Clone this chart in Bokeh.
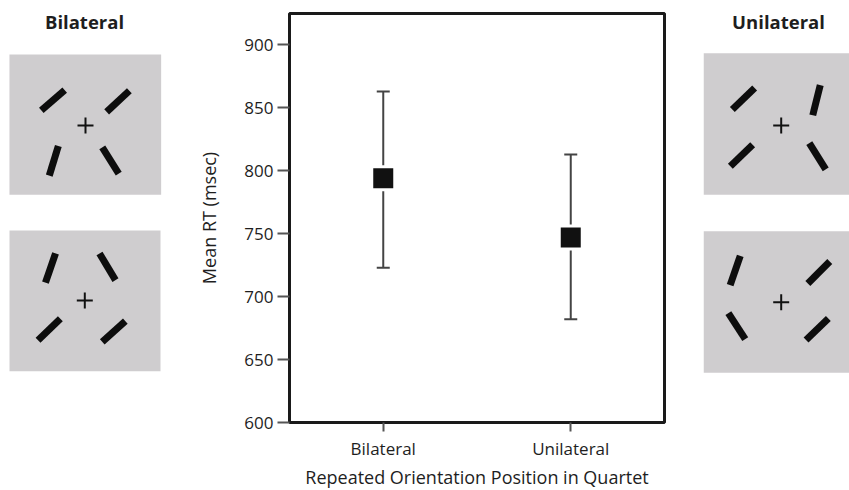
from bokeh.plotting import figure
from bokeh.models import (Range1d, FactorRange, FixedTicker, Whisker, TeeHead,
                          ColumnDataSource, Title)
from bokeh.layouts import row
from bokeh.embed import file_html
from bokeh.resources import INLINE
from bokeh.core.properties import value

# ---------------- data ----------------
categories = ["Bilateral", "Unilateral"]
mean_rt = [794, 747]
ci_upper = [863, 813]
ci_lower = [723, 682]
y_ticks = [600, 650, 700, 750, 800, 850, 900]
x_title = "Repeated Orientation Position in Quartet"
y_title = "Mean RT (msec)"

# stimulus illustrations: bar offsets from fixation (dx right, dy up) and orientation (deg)
bil_top_dx = [-32.5, 32.5, -31.7, 25.0]
bil_top_dy = [25.3, 24.2, -35.3, -35.0]
bil_top_ang = [41, 43, 73, 122]

bil_bot_dx = [-34.3, 22.7, -35.6, 29.0]
bil_bot_dy = [32.5, 33.7, -29.0, -31.0]
bil_bot_ang = [71, 121, 44, 42]

uni_top_dx = [-37.7, 35.3, -39.7, 36.3]
uni_top_dy = [26.7, 25.3, -30.0, -30.7]
uni_top_ang = [44, 76, 44, 122]

uni_bot_dx = [-46.0, 37.6, -44.4, 36.0]
uni_bot_dy = [31.7, 29.7, -24.0, -27.0]
uni_bot_ang = [71, 45, 123, 44]

FONT = "Open Sans"
TXT = "#1e1e1e"
PANEL = "#cfcdcf"
H = 490
FRAME_TOP = 13
FRAME_BOT = 422
Y0, Y1 = 600, 925


def side_fig(x0, x1, title, title_x, panels):
    p = figure(width=x1 - x0, height=H, x_range=Range1d(x0, x1),
               y_range=Range1d(-FRAME_BOT, -FRAME_TOP), x_axis_type=None, y_axis_type=None,
               toolbar_location=None, output_backend="svg",
               min_border_left=0, min_border_right=0, min_border_top=FRAME_TOP,
               min_border_bottom=H - FRAME_BOT)
    p.outline_line_color = None
    p.grid.visible = False
    p.text(x=[title_x], y=[-21], text=[title], text_font=value(FONT),
           text_font_style="bold", text_font_size="18.5px", text_color=TXT,
           text_align="center", text_baseline="middle")
    for (cx, cy, w, h, fx, fy, dx, dy, ang) in panels:
        p.rect(x=[cx], y=[-cy], width=w, height=h, fill_color=PANEL, line_color=None)
        xs = [fx + d for d in dx]
        ys = [-fy + d for d in dy]
        p.rect(x=xs, y=ys, width=31, height=7, angle=ang, angle_units="deg",
               fill_color="#0d0d0d", line_color=None)
        p.scatter(x=[fx], y=[-fy], marker="cross", size=16, line_width=2,
                  line_color="#111111")
    return p


left = side_fig(0, 190, "Bilateral", 84, [
    (84.8, 124.2, 151.7, 140.3, 85.0, 125.0, bil_top_dx, bil_top_dy, bil_top_ang),
    (84.5, 300.3, 151.0, 140.7, 84.3, 300.0, bil_bot_dx, bil_bot_dy, bil_bot_ang),
])
right = side_fig(695, 849, "Unilateral", 778, [
    (779.0, 123.5, 151.5, 141.6, 780.7, 125.0, uni_top_dx, uni_top_dy, uni_top_ang),
    (779.0, 301.5, 151.5, 141.6, 780.7, 301.7, uni_bot_dx, uni_bot_dy, uni_bot_ang),
])

# ---------------- main chart ----------------
src = ColumnDataSource(data=dict(cat=categories, mean=mean_rt, hi=ci_upper, lo=ci_lower))

p = figure(width=505, height=H,
           x_range=FactorRange(*categories, range_padding=0, factor_padding=0),
           y_range=Range1d(Y0, Y1),
           toolbar_location=None, output_backend="svg",
           min_border_left=99, min_border_right=31, min_border_top=FRAME_TOP,
           min_border_bottom=H - FRAME_BOT)
p.grid.visible = False
p.outline_line_color = "#1a1a1a"
p.outline_line_width = 3

wh = Whisker(source=src, base="cat", upper="hi", lower="lo",
             line_color="#444444", line_width=2, level="underlay",
             upper_head=TeeHead(size=13, line_color="#444444", line_width=2),
             lower_head=TeeHead(size=13, line_color="#444444", line_width=2))
p.add_layout(wh)
p.scatter(x="cat", y="mean", source=src, marker="square", size=23,
          fill_color="#111111", line_color="white", line_width=3)

p.yaxis.ticker = FixedTicker(ticks=y_ticks)
p.yaxis.axis_label = y_title
for ax in (p.xaxis, p.yaxis):
    ax.axis_line_color = None
    ax.major_tick_in = 0
    ax.minor_tick_line_color = None
    ax.major_tick_line_color = "#555555"
    ax.major_tick_line_width = 2
    ax.major_label_text_font = FONT
    ax.major_label_text_font_size = "17px"
    ax.major_label_text_color = TXT
    ax.axis_label_text_font = FONT
    ax.axis_label_text_font_size = "18px"
    ax.axis_label_text_font_style = "normal"
    ax.axis_label_text_color = TXT
p.yaxis.major_tick_out = 12
p.yaxis.major_label_standoff = 4
p.yaxis.axis_label_standoff = 20
p.xaxis.major_tick_out = 9
p.xaxis.major_label_standoff = 5

p.add_layout(Title(text=x_title, align="center", text_font=FONT,
                   text_font_size="18px", text_font_style="normal",
                   text_color=TXT, standoff=0, offset=0), "below")

layout = row(left, p, right)
open("out.html", "w").write(file_html(layout, INLINE))
